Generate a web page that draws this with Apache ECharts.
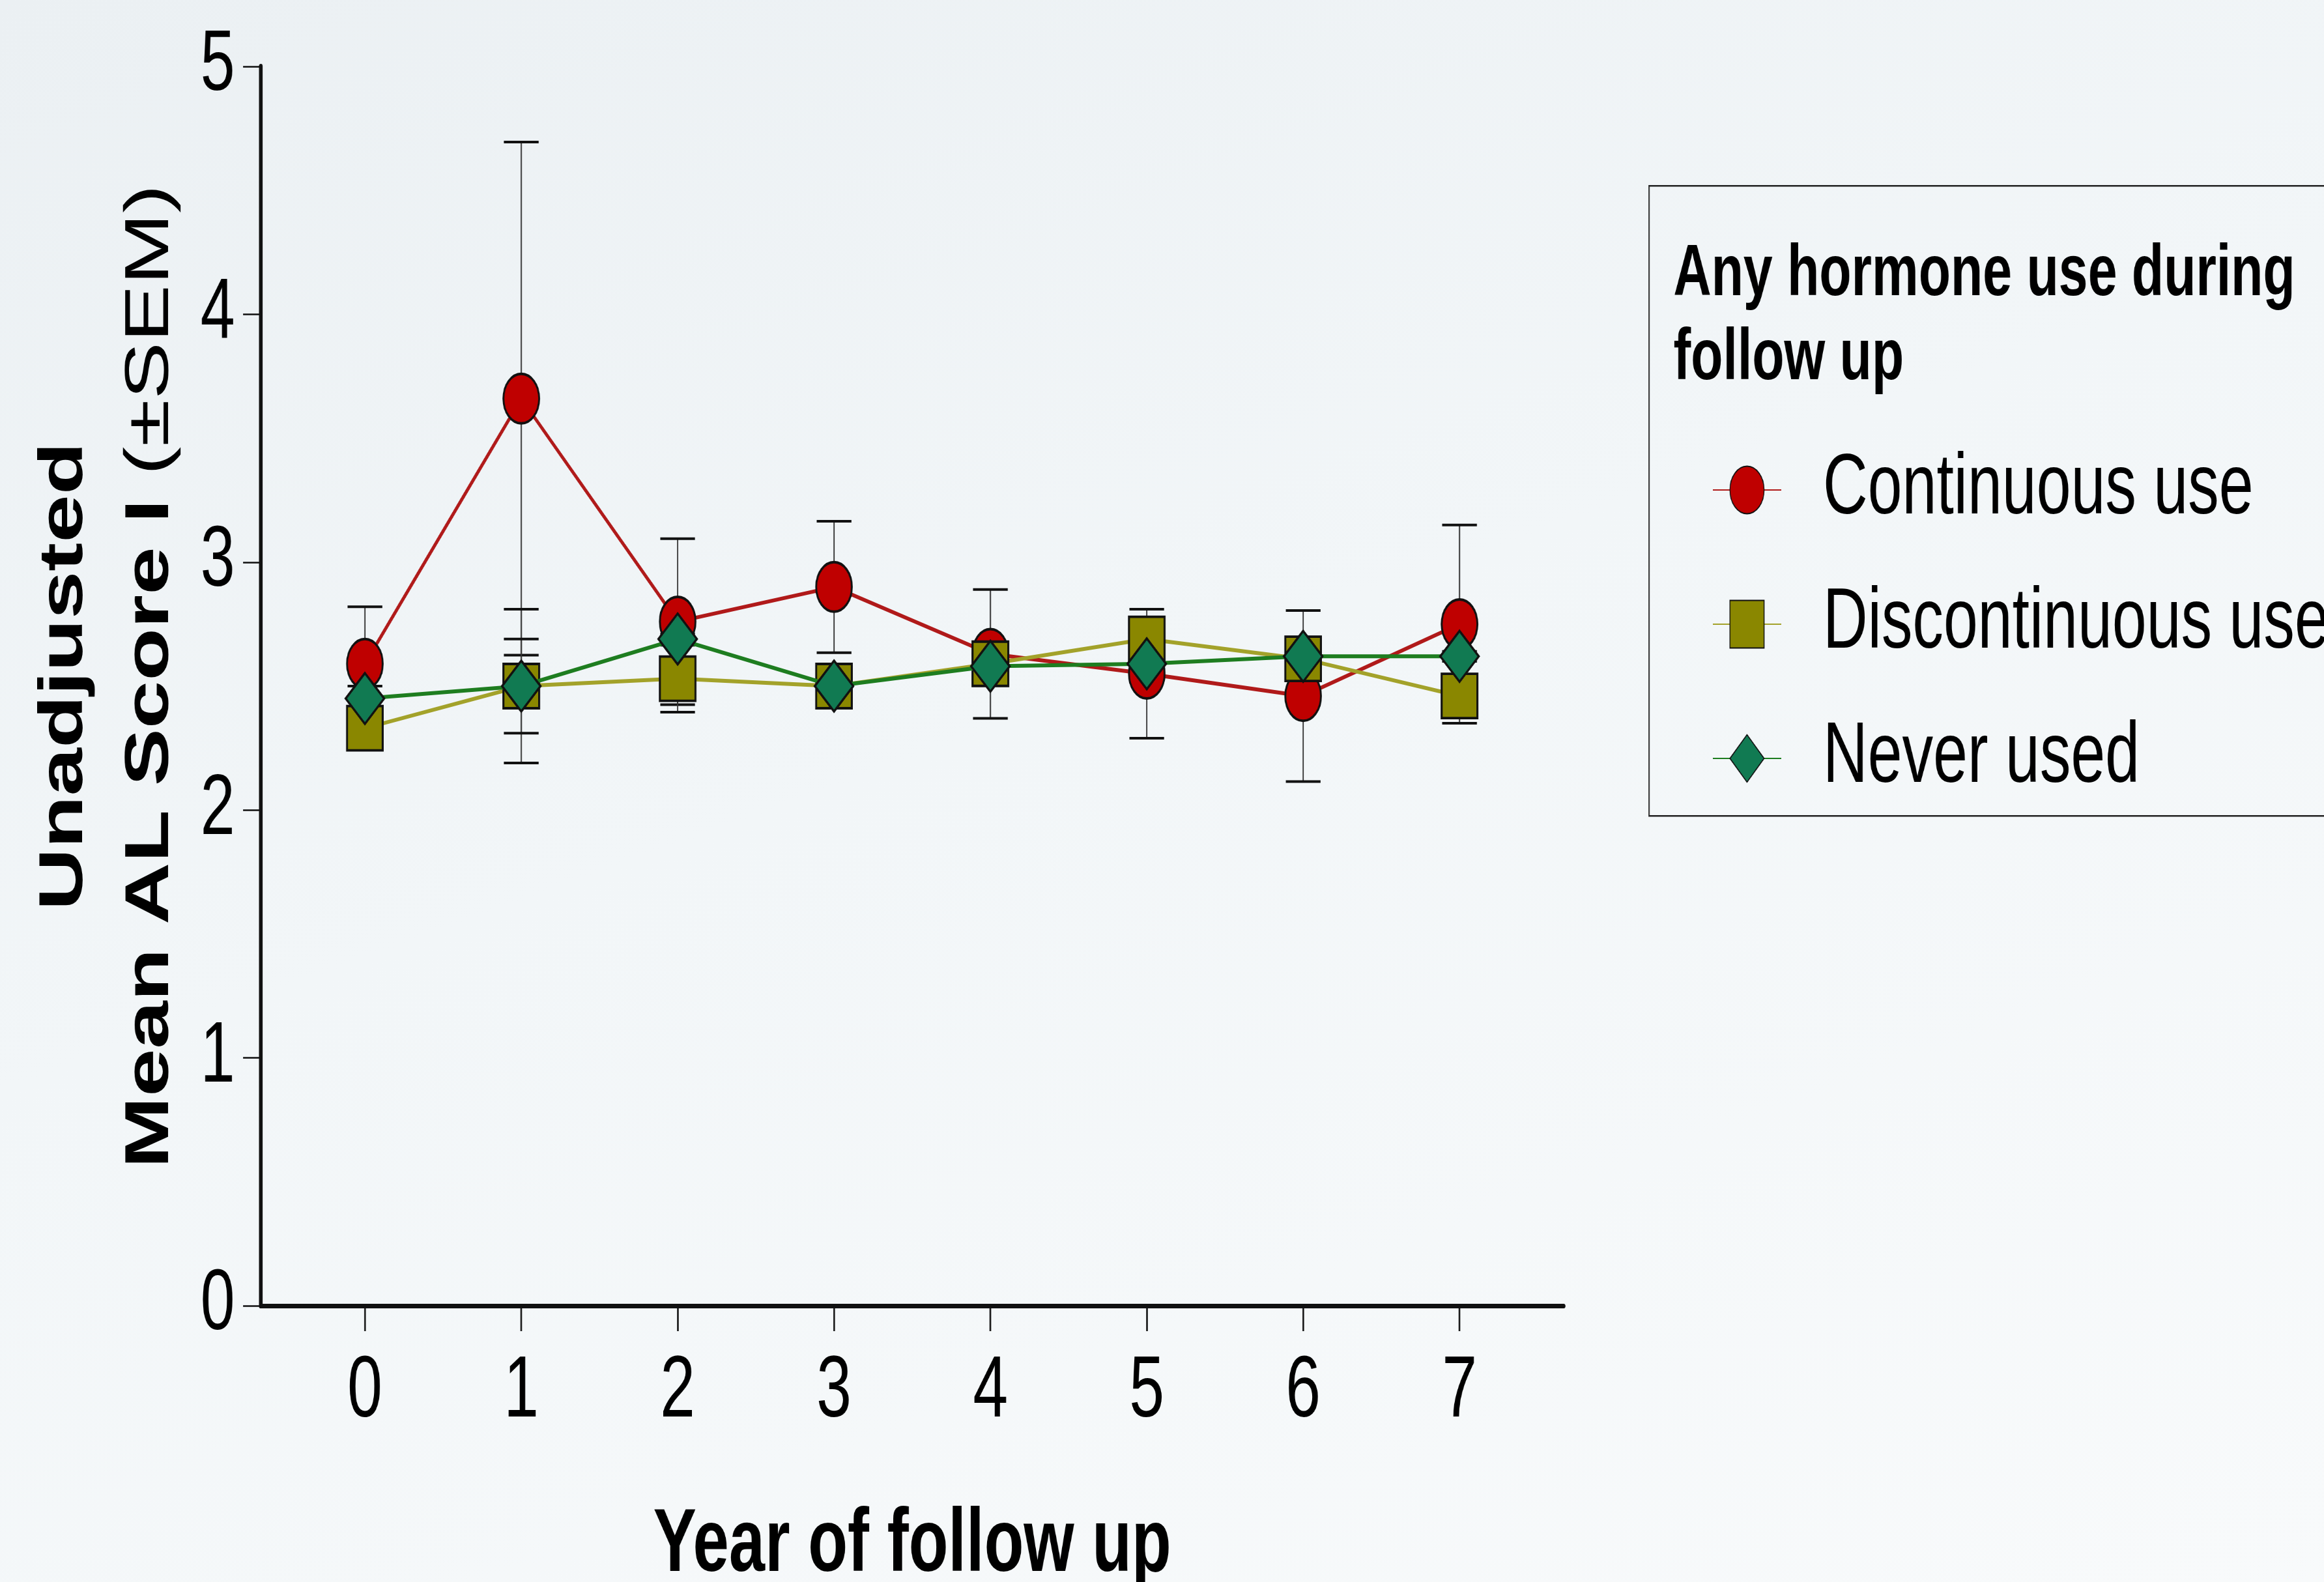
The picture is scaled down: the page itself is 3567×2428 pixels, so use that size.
<!DOCTYPE html>
<html><head><meta charset="utf-8">
<script src="https://cdn.jsdelivr.net/npm/echarts@6/dist/echarts.min.js"></script>
<style>
html,body{margin:0;padding:0;width:3567px;height:2428px;overflow:hidden;
background:linear-gradient(160deg,#ebf0f3 0%,#f2f6f8 45%,#f8fafb 100%);}
#wrap{width:3567px;height:2428px;overflow:hidden;position:relative}
#chart{width:4954px;height:2428px;transform:scaleX(0.72003);transform-origin:0 0;}
</style></head><body><div id="wrap"><div id="chart"></div></div>
<script>
// ---- data ----
const years = [0, 1, 2, 3, 4, 5, 6, 7];
const yTicks = [0, 1, 2, 3, 4, 5];
const seriesNames = ['Continuous use', 'Discontinuous use', 'Never used'];
const contMean  = [2.59, 3.66, 2.76, 2.90, 2.63, 2.55, 2.46, 2.75];
const contSem   = [0.23, 1.035, 0.335, 0.265, 0.26, 0.26, 0.345, 0.40];
const discMean  = [2.33, 2.50, 2.53, 2.50, 2.59, 2.69, 2.61, 2.46];
const discSem   = [0.06, 0.31, 0.135, 0.06, 0.06, 0.06, 0.06, 0.08];
const neverMean = [2.45, 2.50, 2.69, 2.50, 2.58, 2.59, 2.62, 2.62];
const neverSem  = [0.05, 0.19, 0.02, 0.02, 0.02, 0.02, 0.02, 0.02];

const F = '"Liberation Sans", Arial, Helvetica, sans-serif';
const chart = echarts.init(document.getElementById('chart'), null, {renderer: 'canvas'});

function pts(means) { return years.map((x, i) => [x, means[i]]); }
function errs(means, sems) { return years.map((x, i) => [x, means[i] - sems[i], means[i] + sems[i]]); }

function renderErr(params, api) {
  const x = api.value(0), lo = api.value(1), hi = api.value(2);
  const pH = api.coord([x, hi]), pL = api.coord([x, lo]);
  const hw = 37;
  return {type: 'group', children: [
    {type: 'line', shape: {x1: pH[0], y1: pH[1], x2: pL[0], y2: pL[1]}, style: {stroke: '#333', lineWidth: 2.6}},
    {type: 'line', shape: {x1: pH[0] - hw, y1: pH[1], x2: pH[0] + hw, y2: pH[1]}, style: {stroke: '#111', lineWidth: 4}},
    {type: 'line', shape: {x1: pL[0] - hw, y1: pL[1], x2: pL[0] + hw, y2: pL[1]}, style: {stroke: '#111', lineWidth: 4}}
  ]};
}

const errSets = [[contMean, contSem], [discMean, discSem], [neverMean, neverSem]];

const option = {
  animation: false,
  backgroundColor: 'transparent',
  grid: {left: 555.6, top: 102, width: 2777.8, height: 1902, containLabel: false, outerBoundsMode: 'none'},
  xAxis: {
    type: 'value', min: -2 / 3, max: 7 + 2 / 3,
    name: 'Year of follow up', nameLocation: 'middle', nameGap: 300,
    nameTextStyle: {fontSize: 138, fontWeight: 'bold', fontFamily: F, color: '#000'},
    axisLine: {onZero: false, lineStyle: {color: '#111', width: 7}},
    axisTick: {show: true, length: 39, inside: false, customValues: years, lineStyle: {color: '#111', width: 3.5}},
    axisLabel: {customValues: years, fontSize: 134, fontFamily: F, color: '#000', margin: 66},
    splitLine: {show: false}
  },
  yAxis: {
    type: 'value', min: 0, max: 5, interval: 1,
    name: '{b|Unadjusted}\n{b|Mean AL Score I }{r|(±SEM)}',
    nameLocation: 'middle', nameRotate: 90, nameGap: 143,
    nameTextStyle: {
      padding: [0, 0, 0, 30],
      rich: {
        b: {fontSize: 132, fontWeight: 'bold', fontFamily: F, color: '#000', lineHeight: 183},
        r: {fontSize: 132, fontWeight: 'normal', fontFamily: F, color: '#000', lineHeight: 183}
      }
    },
    axisLine: {show: true, onZero: false, lineStyle: {color: '#111', width: 8}},
    axisTick: {show: true, length: 37.5, lineStyle: {color: '#111', width: 2.5}},
    axisLabel: {fontSize: 132, fontFamily: F, color: '#000', margin: 55,
      formatter: v => yTicks.includes(v) ? String(v) : ''},
    splitLine: {show: false}
  },
  legend: {
    orient: 'vertical', left: 3650, top: 686, padding: 0,
    itemWidth: 146, itemHeight: 91, itemGap: 74,
    textStyle: {fontSize: 132, fontFamily: F, color: '#000', lineHeight: 130, padding: [0, 0, 0, 84]},
    data: seriesNames
  },
  graphic: [
    {type: 'rect', left: 3514, top: 284, z: 0,
      shape: {width: 1600, height: 967},
      style: {fill: 'rgba(0,0,0,0)', stroke: '#222', lineWidth: 2.5}},
    {type: 'text', left: 3567, top: 358, z: 10,
      style: {text: 'Any hormone use during\nfollow up', font: 'bold 112px ' + F, lineHeight: 129, fill: '#000'}}
  ],
  series: [
    ...errSets.map(([m, s], k) => ({
      type: 'custom', name: 'err' + k, data: errs(m, s), renderItem: renderErr,
      encode: {x: 0, y: [1, 2]}, z: 1, silent: true
    })),
    {type: 'line', name: seriesNames[0], data: pts(contMean), z: 3,
      symbol: 'circle', symbolSize: 76,
      lineStyle: {color: '#b01a1a', width: 6},
      itemStyle: {color: '#bf0000', borderColor: '#111', borderWidth: 4}},
    {type: 'line', name: seriesNames[1], data: pts(discMean), z: 4,
      symbol: 'rect', symbolSize: [76, 68],
      lineStyle: {color: '#a3a22a', width: 6},
      itemStyle: {color: '#8a8700', borderColor: '#111', borderWidth: 4}},
    {type: 'line', name: seriesNames[2], data: pts(neverMean), z: 5,
      symbol: 'diamond', symbolSize: [82, 78],
      lineStyle: {color: '#1e7d20', width: 6},
      itemStyle: {color: '#117a52', borderColor: '#111', borderWidth: 4}}
  ]
};
chart.setOption(option);
</script></body></html>
